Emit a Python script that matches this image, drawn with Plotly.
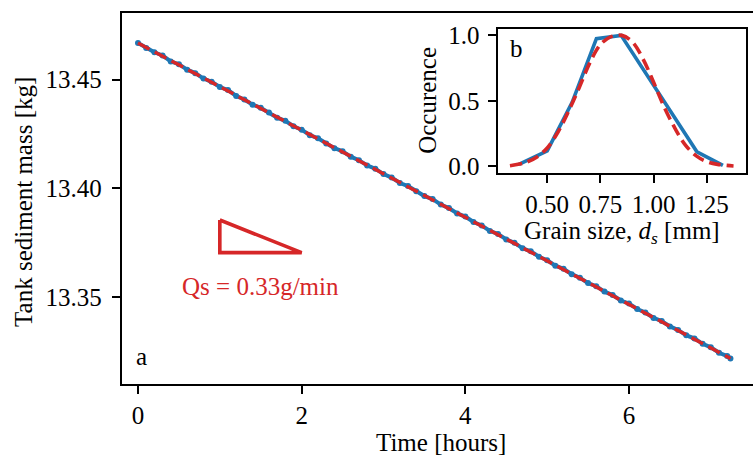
import plotly.graph_objects as go

W, H = 753, 466
BLUE = "#1f77b4"
RED = "#d62728"
FONT = "Liberation Serif, Times New Roman, serif"
FS = 25

# ---- main panel data (time in hours, mass in kg) ----
time_h = [0.0, 0.1, 0.2, 0.3, 0.4, 0.5, 0.6, 0.7, 0.8, 0.9,
          1.0, 1.1, 1.2, 1.3, 1.4, 1.5, 1.6, 1.7, 1.8, 1.9,
          2.0, 2.1, 2.2, 2.3, 2.4, 2.5, 2.6, 2.7, 2.8, 2.9,
          3.0, 3.1, 3.2, 3.3, 3.4, 3.5, 3.6, 3.7, 3.8, 3.9,
          4.0, 4.1, 4.2, 4.3, 4.4, 4.5, 4.6, 4.7, 4.8, 4.9,
          5.0, 5.1, 5.2, 5.3, 5.4, 5.5, 5.6, 5.7, 5.8, 5.9,
          6.0, 6.1, 6.2, 6.3, 6.4, 6.5, 6.6, 6.7, 6.8, 6.9,
          7.0, 7.1, 7.2, 7.24]
mass_kg = [13.4668, 13.4645, 13.4626, 13.4611, 13.4584, 13.4571, 13.4546, 13.4530, 13.4505, 13.4490,
           13.4466, 13.4452, 13.4425, 13.4409, 13.4385, 13.4371, 13.4349, 13.4325, 13.4311, 13.4286,
           13.4270, 13.4245, 13.4231, 13.4207, 13.4185, 13.4171, 13.4146, 13.4130, 13.4106, 13.4091,
           13.4066, 13.4050, 13.4025, 13.4011, 13.3987, 13.3965, 13.3951, 13.3926, 13.3910, 13.3885,
           13.3871, 13.3846, 13.3830, 13.3805, 13.3791, 13.3766, 13.3750, 13.3725, 13.3711, 13.3686,
           13.3670, 13.3645, 13.3631, 13.3606, 13.3590, 13.3565, 13.3551, 13.3526, 13.3510, 13.3485,
           13.3471, 13.3446, 13.3430, 13.3405, 13.3391, 13.3366, 13.3350, 13.3325, 13.3311, 13.3286,
           13.3270, 13.3245, 13.3230, 13.3219]
fit_time = [0.0, 7.24]
fit_mass = [13.4668, 13.3219]

tri_x = [1.0, 1.0, 2.0, 1.0]
tri_y = [13.3855, 13.3705, 13.3705, 13.3855]

main_xticks = [0, 2, 4, 6]
main_yticks = [13.35, 13.40, 13.45]

# ---- inset data (grain size distribution) ----
grain_mm = [0.367, 0.50, 0.617, 0.731, 0.847, 0.965, 1.085, 1.203, 1.325]
occurence = [0.015, 0.118, 0.489, 0.975, 1.0, 0.705, 0.40, 0.111, 0.007]
fit_grain = [0.325, 0.40, 0.45, 0.50, 0.55, 0.60, 0.65, 0.70, 0.75, 0.80, 0.85,
             0.90, 0.95, 1.00, 1.05, 1.10, 1.15, 1.20, 1.25, 1.30, 1.375]
fit_occ = [0.005, 0.03, 0.07, 0.14, 0.26, 0.42, 0.60, 0.79, 0.93, 0.99, 1.0,
           0.95, 0.82, 0.64, 0.45, 0.29, 0.16, 0.08, 0.035, 0.015, 0.003]
inset_xticks = [0.50, 0.75, 1.00, 1.25]
inset_yticks = [0.0, 0.5, 1.0]


def px(x):
    return x / W


def py(y):
    return 1 - y / H


fig = go.Figure()

fig.add_trace(go.Scatter(x=time_h, y=mass_kg, mode="lines+markers",
                         line=dict(color=BLUE, width=4),
                         marker=dict(color=BLUE, size=6),
                         xaxis="x", yaxis="y", showlegend=False))
fig.add_trace(go.Scatter(x=fit_time, y=fit_mass, mode="lines",
                         line=dict(color=RED, width=3.4, dash="13px,6px"),
                         xaxis="x", yaxis="y", showlegend=False))
fig.add_trace(go.Scatter(x=tri_x, y=tri_y, mode="lines",
                         line=dict(color=RED, width=3.6),
                         xaxis="x", yaxis="y", showlegend=False))

fig.add_trace(go.Scatter(x=grain_mm, y=occurence, mode="lines",
                         line=dict(color=BLUE, width=3.6),
                         xaxis="x2", yaxis="y2", showlegend=False))
fig.add_trace(go.Scatter(x=fit_grain, y=fit_occ, mode="lines",
                         line=dict(color=RED, width=3.6, dash="12px,6px", shape="spline"),
                         xaxis="x2", yaxis="y2", showlegend=False))

axis_common = dict(showgrid=False, zeroline=False, showline=True, linecolor="black",
                   linewidth=1.9, ticks="outside", ticklen=8, tickwidth=1.9,
                   tickcolor="black", tickfont=dict(family=FONT, size=FS, color="black"))

# main panel geometry (pixels)
mL, mT, mB = 121.7, 6.7, 389.0
x0px, pxh = 138.0, 81.83
xr = [(mL - x0px) / pxh, (W - x0px) / pxh]

fig.update_layout(
    width=W, height=H, margin=dict(l=0, r=0, t=0, b=0),
    paper_bgcolor="white", plot_bgcolor="white",
    xaxis=dict(domain=[px(mL), 1.0], range=xr, tickvals=main_xticks,
               mirror=True, anchor="y", **axis_common),
    yaxis=dict(domain=[py(mB), py(mT)], range=[13.31, 13.4804], tickvals=main_yticks,
               tickformat=".2f", anchor="x", ticklabelstandoff=5, **axis_common),
    xaxis2=dict(domain=[px(497.5), px(746.0)], range=[0.2665, 1.4335],
                tickvals=inset_xticks, tickformat=".2f", anchor="y2", mirror=True, **axis_common),
    yaxis2=dict(domain=[py(171.0), py(22.5)], range=[-0.05, 1.05],
                tickvals=inset_yticks, tickformat=".1f", anchor="x2", mirror=True,
                ticklabelstandoff=3, **axis_common),
)

tf = dict(family=FONT, size=FS, color="black")
annots = [
    dict(text="Time [hours]", x=px(441), y=py(449), xanchor="center", yanchor="middle"),
    dict(text="Tank sediment mass [kg]", x=px(24), y=py(201), xanchor="center",
         yanchor="middle", textangle=-90),
    dict(text="Grain size, <i>d<sub>s</sub></i> [mm]", x=px(621.7), y=py(232),
         xanchor="center", yanchor="middle"),
    dict(text="Occurence", x=px(428), y=py(96.7), xanchor="center", yanchor="middle",
         textangle=-90),
    dict(text="a", x=px(141), y=py(360), xanchor="center", yanchor="middle"),
    dict(text="b", x=px(516.7), y=py(43), xanchor="center", yanchor="middle"),
]
for a in annots:
    fig.add_annotation(xref="paper", yref="paper", showarrow=False, font=tf, **a)

fig.add_annotation(xref="x", yref="y", x=1.5, y=13.3548, text="Qs = 0.33g/min",
                   showarrow=False, xanchor="center", yanchor="middle",
                   font=dict(family=FONT, size=FS, color=RED))

fig.write_html("out.html")
